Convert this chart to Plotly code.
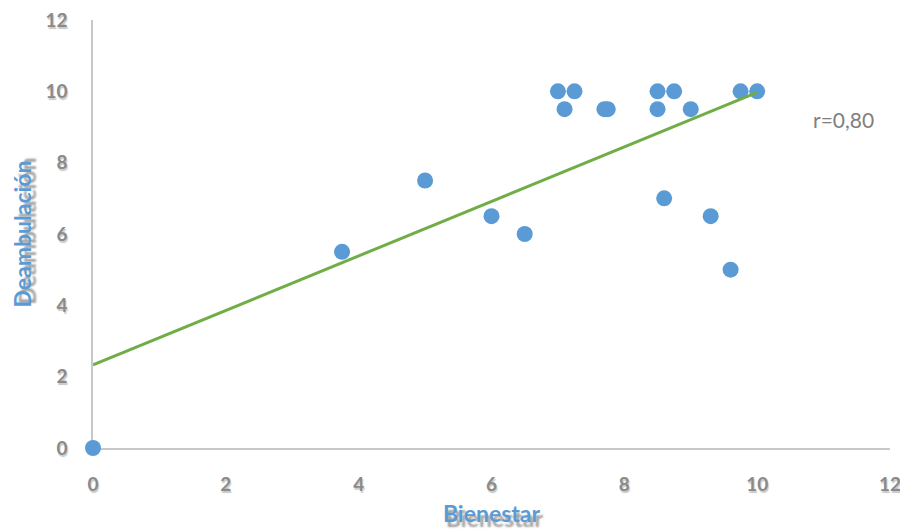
import plotly.graph_objects as go

bienestar = [0, 3.75, 5, 6, 6.5, 7, 7.25, 7.1, 7.7, 7.75, 8.5, 8.75, 8.5, 9, 8.6, 9.3, 9.6, 9.75, 10]
deambulacion = [0, 5.5, 7.5, 6.5, 6, 10, 10, 9.5, 9.5, 9.5, 10, 10, 9.5, 9.5, 7, 6.5, 5, 10, 10]
trend_x = [0, 10]
trend_y = [2.33, 9.97]
tick_vals = [0, 2, 4, 6, 8, 10, 12]
tick_text = ["0", "2", "4", "6", "8", "10", "12"]

tick_font = dict(family="Lato, 'Open Sans', sans-serif", size=19, color="#8a8a8a",
                 weight="bold", shadow="1px 2px 1px #c8c8c8")

fig = go.Figure()
fig.add_trace(go.Scatter(x=bienestar, y=deambulacion, mode="markers",
                         marker=dict(size=16, color="#5B9BD5"),
                         cliponaxis=False, showlegend=False))
fig.add_trace(go.Scatter(x=trend_x, y=trend_y, mode="lines",
                         line=dict(color="#70AD47", width=3),
                         cliponaxis=False, showlegend=False))

fig.add_annotation(x=1, xref="paper", y=10 - 0.8, yref="y", xanchor="right",
                   text="r=0,80", showarrow=False, xshift=-14,
                   font=dict(family="Lato, 'Open Sans', sans-serif", size=21, color="#7f7f7f"))

fig.update_layout(
    width=908, height=532,
    margin=dict(l=85, r=26, t=12, b=92),
    paper_bgcolor="white", plot_bgcolor="white",
    xaxis=dict(range=[0, 12], tickvals=tick_vals, ticktext=tick_text, automargin=False,
               showgrid=False, zeroline=False, showline=True, linecolor="#c8c8c8",
               linewidth=1.5, ticks="", ticklabelstandoff=18, tickfont=tick_font,
               ticklabeloverflow="allow", layer="below traces",
               title=dict(text="Bienestar", standoff=12,
                          font=dict(family="Lato, 'Open Sans', sans-serif", size=23,
                                    color="#5B9BD5", weight="bold",
                                    shadow="3px 5px 2px #a0a0a0"))),
    yaxis=dict(range=[0, 12], tickvals=tick_vals, ticktext=tick_text, automargin=False,
               showgrid=False, zeroline=False, showline=True, linecolor="#c8c8c8",
               linewidth=1.5, ticks="", ticklabelstandoff=20, tickfont=tick_font,
               ticklabeloverflow="allow", layer="below traces",
               title=dict(text="Deambulación", standoff=7,
                          font=dict(family="Lato, 'Open Sans', sans-serif", size=23,
                                    color="#5B9BD5", weight="bold",
                                    shadow="3px 5px 2px #a0a0a0"))),
)

fig.write_html("out.html")
